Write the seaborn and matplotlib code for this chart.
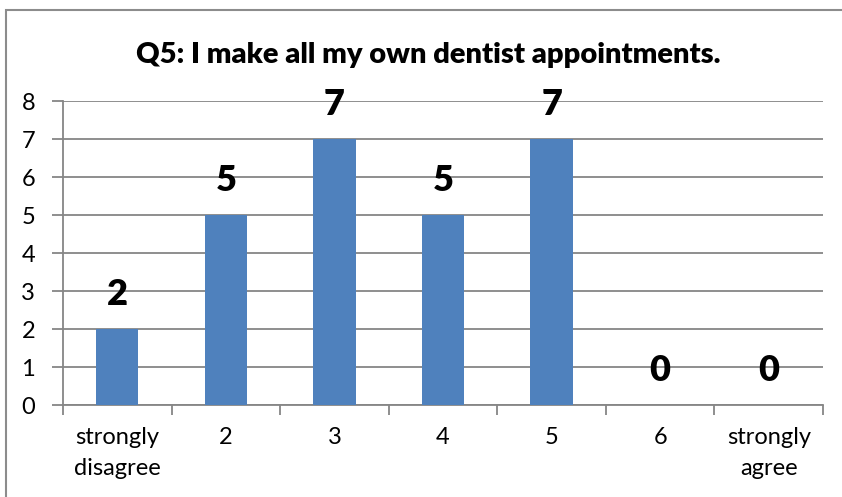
import matplotlib
matplotlib.use("Agg")
import matplotlib.pyplot as plt
import matplotlib.patches as mpatches
import seaborn as sns
import pandas as pd

categories = ["strongly\ndisagree", "2", "3", "4", "5", "6", "strongly\nagree"]
counts = [2, 5, 7, 5, 7, 0, 0]
title = "Q5: I make all my own dentist appointments."
yticks = [0, 1, 2, 3, 4, 5, 6, 7, 8]

sns.set_theme(style="white")
plt.rcParams['font.family'] = ['Lato', 'DejaVu Sans']

df = pd.DataFrame({"category": categories, "count": counts})

fig = plt.figure(figsize=(8.42, 4.97), dpi=100)
ax = fig.add_axes([63/842, 1-405/497, (823-63)/842, (405-101)/497])

sns.barplot(data=df, x="category", y="count", color="#4F81BD", width=0.39,
            saturation=1, linewidth=0, ax=ax, zorder=3)

grid_c = "#868686"
ax.set_ylim(0, 8)
ax.set_xlim(-0.5, len(categories) - 0.5)
ax.set_yticks(yticks)
ax.set_yticklabels([str(v) for v in yticks], fontsize=17, color="black")
ax.set_xticks(range(len(categories)))
ax.set_xticklabels(categories, fontsize=17, color="black", linespacing=1.55)
ax.set_xticks([i - 0.5 for i in range(len(categories) + 1)], minor=True)
ax.tick_params(axis="x", which="both", bottom=True)
ax.tick_params(axis="y", which="both", left=True)
ax.tick_params(axis="x", which="major", length=0, pad=16)
ax.tick_params(axis="x", which="minor", length=7, width=1.3, color=grid_c, direction="out")
ax.tick_params(axis="y", which="major", length=8, width=1.3, color=grid_c, direction="out", pad=12)
ax.yaxis.grid(True, color=grid_c, linewidth=1.3, zorder=0)
ax.set_axisbelow(True)
ax.set_xlabel("")
ax.set_ylabel("")
for s in ["top", "right"]:
    ax.spines[s].set_visible(False)
for s in ["left", "bottom"]:
    ax.spines[s].set_color(grid_c)
    ax.spines[s].set_linewidth(1.3)

for i, v in enumerate(counts):
    ax.annotate(str(v), xy=(i, v), xytext=(0, 24.5), textcoords="offset points",
                ha="center", va="center", fontsize=26, fontweight="heavy", color="black")

fig.text(428/842, 1-55/497, title, ha="center", va="center", fontsize=21,
         fontweight="heavy", color="black")

border = mpatches.Rectangle((6/842, -0.1), 1.2, (1-10/497) + 0.1, transform=fig.transFigure,
                            fill=False, edgecolor="#8c8c8c", linewidth=1.5)
fig.patches.append(border)

fig.savefig("out.png", dpi=100)
